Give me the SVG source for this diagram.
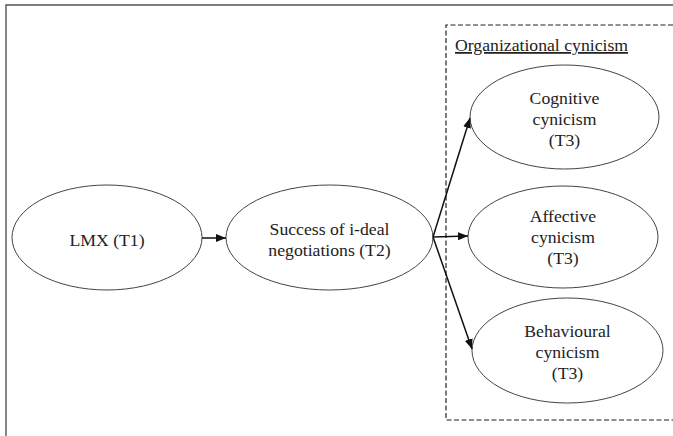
<svg xmlns="http://www.w3.org/2000/svg" width="673" height="436" viewBox="0 0 673 436">
<style>
  .frame { fill: none; stroke: #555; stroke-width: 1.4; }
  .group { fill: none; stroke: #222; stroke-width: 1.2; stroke-dasharray: 5 2.5; }
  .node ellipse { fill: #fff; stroke: #444; stroke-width: 1; }
  text { font-family: 'Liberation Serif', 'DejaVu Serif', 'Times New Roman', serif; font-size: 17.7px; fill: #222; text-anchor: middle; }
  .title { text-anchor: start; text-decoration: underline; }
  .edge { stroke: #111; stroke-width: 1.5; fill: none; marker-end: url(#arrow); }
</style>
<defs>
  <marker id="arrow" markerWidth="10" markerHeight="8" refX="10" refY="4" orient="auto" markerUnits="userSpaceOnUse">
    <path d="M0,0 L10,4 L0,8 z" fill="#111"/>
  </marker>
</defs>
<rect width="673" height="436" fill="#fff"/>
<path class="frame" d="M6,436 V5 H673"/>
<g id="organizational-cynicism">
  <path class="group" d="M673,25 H446 V420 H673"/>
  <text class="title" x="455" y="51" font-family="Liberation Serif, serif">Organizational cynicism</text>
</g>
<g id="lmx" class="node" font-family="Liberation Serif, serif">
  <ellipse cx="107" cy="237.5" rx="95" ry="52.5"/>
  <text x="107" y="246">LMX (T1)</text>
</g>
<g id="success" class="node">
  <ellipse cx="329.5" cy="237.5" rx="103.5" ry="52.5"/>
  <text x="329.5" y="235">Success of i-deal</text>
  <text x="329.5" y="256">negotiations (T2)</text>
</g>
<g id="cognitive" class="node">
  <ellipse cx="564.5" cy="117" rx="94.5" ry="52"/>
  <text x="564.5" y="104">Cognitive</text>
  <text x="564.5" y="125">cynicism</text>
  <text x="564.5" y="146">(T3)</text>
</g>
<g id="affective" class="node">
  <ellipse cx="563" cy="237" rx="95" ry="51"/>
  <text x="563" y="222">Affective</text>
  <text x="563" y="243">cynicism</text>
  <text x="563" y="264">(T3)</text>
</g>
<g id="behavioural" class="node">
  <ellipse cx="567.5" cy="350.5" rx="95.5" ry="52.5"/>
  <text x="567.5" y="337">Behavioural</text>
  <text x="567.5" y="358">cynicism</text>
  <text x="567.5" y="379">(T3)</text>
</g>
<g id="connectors">
  <line class="edge" x1="202" y1="238" x2="226" y2="238"/>
  <line class="edge" x1="433" y1="237" x2="470" y2="118"/>
  <line class="edge" x1="433" y1="237" x2="468" y2="236"/>
  <line class="edge" x1="433" y1="237" x2="472" y2="349"/>
</g>
</svg>
